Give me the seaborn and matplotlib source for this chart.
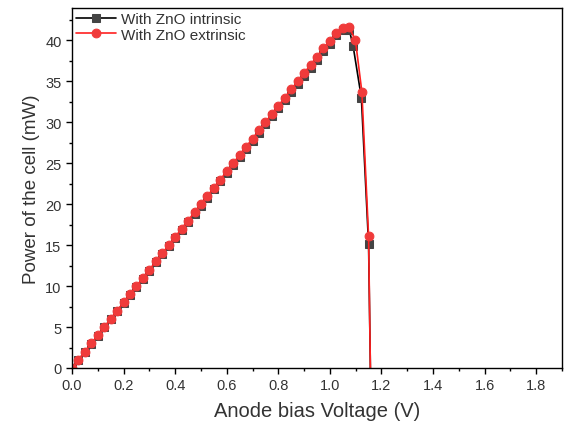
import matplotlib
matplotlib.use("Agg")
import matplotlib.pyplot as plt
import seaborn as sns
from matplotlib.ticker import MultipleLocator

# Data
v_intrinsic = [0.000, 0.025, 0.050, 0.075, 0.100, 0.125, 0.150, 0.175, 0.200, 0.225,
               0.250, 0.275, 0.300, 0.325, 0.350, 0.375, 0.400, 0.425, 0.450, 0.475,
               0.500, 0.525, 0.550, 0.575, 0.600, 0.625, 0.650, 0.675, 0.700, 0.725,
               0.750, 0.775, 0.800, 0.825, 0.850, 0.875, 0.900, 0.925, 0.950, 0.975,
               1.000, 1.025, 1.050, 1.075, 1.090, 1.122, 1.150, 1.157]
p_intrinsic = [0.00, 0.99, 1.98, 2.97, 3.96, 4.96, 5.95, 6.94, 7.93, 8.92,
               9.91, 10.90, 11.89, 12.88, 13.87, 14.86, 15.85, 16.84, 17.83, 18.82,
               19.81, 20.80, 21.79, 22.78, 23.77, 24.76, 25.75, 26.75, 27.74, 28.73,
               29.72, 30.71, 31.70, 32.69, 33.68, 34.67, 35.66, 36.65, 37.64, 38.63,
               39.55, 40.60, 41.25, 41.30, 39.30, 33.00, 15.10, 0.00]

v_extrinsic = [0.000, 0.025, 0.050, 0.075, 0.100, 0.125, 0.150, 0.175, 0.200, 0.225,
               0.250, 0.275, 0.300, 0.325, 0.350, 0.375, 0.400, 0.425, 0.450, 0.475,
               0.500, 0.525, 0.550, 0.575, 0.600, 0.625, 0.650, 0.675, 0.700, 0.725,
               0.750, 0.775, 0.800, 0.825, 0.850, 0.875, 0.900, 0.925, 0.950, 0.975,
               1.000, 1.025, 1.050, 1.075, 1.099, 1.124, 1.150, 1.157]
p_extrinsic = [0.0, 1.0, 2.0, 3.0, 4.0, 5.0, 6.0, 7.0, 8.0, 9.0,
               10.0, 11.0, 12.0, 13.0, 14.0, 15.0, 16.0, 17.0, 18.0, 19.0,
               20.0, 21.0, 22.0, 23.0, 24.0, 25.0, 26.0, 27.0, 28.0, 29.0,
               30.0, 31.0, 32.0, 33.0, 34.0, 35.0, 36.0, 37.0, 38.0, 39.0,
               39.9, 40.9, 41.5, 41.6, 40.0, 33.7, 16.1, 0.0]

labels = ["With ZnO intrinsic", "With ZnO extrinsic"]
x_ticks = [0.0, 0.2, 0.4, 0.6, 0.8, 1.0, 1.2, 1.4, 1.6, 1.8]
y_ticks = [0, 5, 10, 15, 20, 25, 30, 35, 40]

sns.set_style("white")
plt.rcParams['font.family'] = ['Liberation Sans', 'DejaVu Sans']

fig = plt.figure(figsize=(5.64, 4.27), dpi=100)
ax = fig.add_axes([72 / 564, 1 - 369 / 427, (562 - 72) / 564, (369 - 9.3) / 427])

n_i = len(v_intrinsic)
n_e = len(v_extrinsic)
sns.lineplot(x=v_intrinsic, y=p_intrinsic, ax=ax, color="black", linewidth=1.2,
             marker="s", markersize=5.5, markerfacecolor="#444444", markeredgecolor="#444444",
             markevery=list(range(n_i - 1)), label=labels[0], sort=False, estimator=None)
sns.lineplot(x=v_extrinsic, y=p_extrinsic, ax=ax, color="#ff2020", linewidth=1.2,
             marker="o", markersize=6.3, markerfacecolor="#f03a3a", markeredgecolor="#f03a3a",
             markevery=list(range(n_e - 1)), label=labels[1], sort=False, estimator=None)

ax.set_xlim(0, 1.9)
ax.set_ylim(0, 43.9)
ax.set_xticks(x_ticks)
ax.set_xticklabels([f"{t:.1f}" for t in x_ticks])
ax.set_yticks(y_ticks)
ax.xaxis.set_minor_locator(MultipleLocator(0.1))
ax.yaxis.set_minor_locator(MultipleLocator(2.5))
ax.tick_params(axis="both", which="major", direction="out", length=4, width=1,
               labelsize=10.5, labelcolor="#333333", color="black",
               bottom=True, left=True, top=False, right=False)
ax.tick_params(axis="both", which="minor", direction="out", length=2.5, width=1,
               color="black", bottom=True, left=True, top=False, right=False)

for s in ax.spines.values():
    s.set_visible(True)
    s.set_color("black")
    s.set_linewidth(1.0)

ax.set_xlabel("Anode bias Voltage (V)", fontsize=14.5, color="#333333", labelpad=6)
ax.set_ylabel("Power of the cell (mW)", fontsize=13.5, color="#333333", labelpad=4)

leg = ax.legend(loc="upper left", bbox_to_anchor=(-0.01, 1.015), frameon=False,
                fontsize=11, handlelength=2.6, handletextpad=0.3, labelspacing=0.1,
                borderaxespad=0.2)
for t in leg.get_texts():
    t.set_color("#333333")

fig.savefig("out.png", dpi=100)
